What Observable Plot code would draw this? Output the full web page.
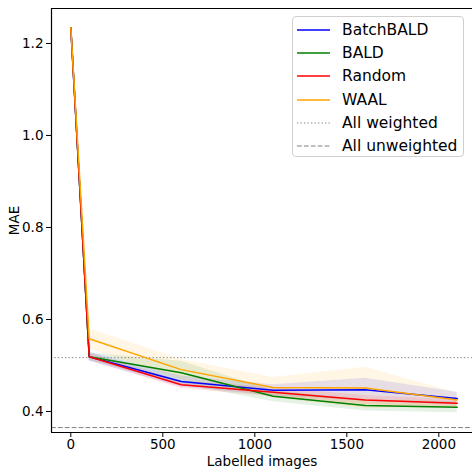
<!DOCTYPE html>
<html>
<head>
<meta charset="utf-8">
<script src="https://cdn.jsdelivr.net/npm/d3@7"></script>
<script src="https://cdn.jsdelivr.net/npm/@observablehq/plot@0.6"></script>
<style>
  html, body { margin: 0; padding: 0; background: #fff; }
  #wrap { position: relative; width: 472px; height: 469px; overflow: hidden; font-family: "DejaVu Sans", sans-serif; }
  #legend { position: absolute; left: 292px; top: 16px; width: 172px; height: 141px; border: 1px solid #d0d0d0; border-radius: 4px; background: rgba(255,255,255,0.85); box-sizing: border-box; }
  .row { position: absolute; left: 0; height: 20px; display: flex; align-items: center; font-size: 15.5px; color: #000; white-space: nowrap; }
  .row svg { margin-left: 4px; margin-right: 12px; }
</style>
</head>
<body>
<div id="wrap"><div id="chart"></div><div id="legend"></div></div>
<script>
const steps = [0, 100, 600, 1100, 1600, 2100];
const seriesNames = ["BatchBALD", "BALD", "Random", "WAAL"];
const seriesColors = ["#0000ff", "#008000", "#ff0000", "#ffa500"];
const batchbald = [1.234, 0.519, 0.465, 0.446, 0.447, 0.428];
const bald      = [1.234, 0.519, 0.484, 0.433, 0.413, 0.409];
const random    = [1.234, 0.519, 0.458, 0.442, 0.425, 0.418];
const waal      = [1.234, 0.558, 0.491, 0.452, 0.451, 0.425];
const batchbaldStd = [0.003, 0.010, 0.012, 0.012, 0.025, 0.014];
const baldStd      = [0.003, 0.008, 0.025, 0.012, 0.012, 0.012];
const randomStd    = [0.003, 0.008, 0.008, 0.010, 0.010, 0.008];
const waalStd      = [0.003, 0.022, 0.022, 0.022, 0.045, 0.015];
const allWeighted = 0.517;
const allUnweighted = 0.365;
const xTicks = [0, 500, 1000, 1500, 2000];
const yTicks = [0.4, 0.6, 0.8, 1.0, 1.2];
const xDomain = [-105, 2183];
const yDomain = [0.3543, 1.276];

const means = [batchbald, bald, random, waal];
const stds = [batchbaldStd, baldStd, randomStd, waalStd];
const rows = [];
seriesNames.forEach((name, i) => {
  steps.forEach((s, j) => {
    rows.push({series: name, x: s, y: means[i][j], lo: means[i][j] - stds[i][j], hi: means[i][j] + stds[i][j]});
  });
});

const chart = Plot.plot({
  width: 472,
  height: 469,
  marginLeft: 51,
  marginRight: 0,
  marginTop: 8,
  marginBottom: 37,
  style: {fontFamily: "DejaVu Sans, sans-serif", fontSize: "13.5px", color: "#000", background: "#fff"},
  x: {domain: xDomain},
  y: {domain: yDomain},
  color: {domain: seriesNames, range: seriesColors},
  marks: [
    Plot.areaY(rows, {x: "x", y1: "lo", y2: "hi", z: "series", fill: "series", fillOpacity: 0.1, curve: "linear"}),
    Plot.ruleY([allWeighted], {stroke: "#808080", strokeWidth: 1, strokeDasharray: "1.3,2.2"}),
    Plot.ruleY([allUnweighted], {stroke: "#808080", strokeWidth: 1, strokeDasharray: "4.8,2.1"}),
    Plot.line(rows, {x: "x", y: "y", z: "series", stroke: "series", strokeWidth: 1.5}),
    Plot.ruleX([xDomain[0]], {stroke: "#000", strokeWidth: 1.2}),
    Plot.ruleY([yDomain[0]], {stroke: "#000", strokeWidth: 1.2}),
    Plot.ruleY([yDomain[1]], {stroke: "#000", strokeWidth: 1.2}),
    Plot.axisX({ticks: xTicks, tickSize: 5, tickPadding: 2, tickFormat: d3.format("d"), label: "Labelled images", labelAnchor: "center", labelArrow: "none", labelOffset: 33, fontSize: 13.5}),
    Plot.axisY({ticks: yTicks, tickSize: 5, tickPadding: 3, tickFormat: d3.format(".1f"), label: "MAE", labelAnchor: "center", labelArrow: "none", labelOffset: 42, fontSize: 13.5})
  ]
});
document.getElementById("chart").appendChild(chart);

const legendItems = [
  ...seriesNames.map((n, i) => ({label: n, color: seriesColors[i], dash: null, w: 1.5})),
  {label: "All weighted", color: "#808080", dash: "1.3,2.2", w: 1},
  {label: "All unweighted", color: "#808080", dash: "4.8,2.1", w: 1}
];
const legend = document.getElementById("legend");
legendItems.forEach((it, i) => {
  const row = document.createElement("div");
  row.className = "row";
  row.style.top = (3 + i * 23.2) + "px";
  row.innerHTML = `<svg width="33" height="4"><line x1="0" x2="33" y1="2" y2="2" stroke="${it.color}" stroke-width="${it.w}" ${it.dash ? `stroke-dasharray="${it.dash}"` : ""}/></svg><span>${it.label}</span>`;
  legend.appendChild(row);
});
</script>
</body>
</html>
